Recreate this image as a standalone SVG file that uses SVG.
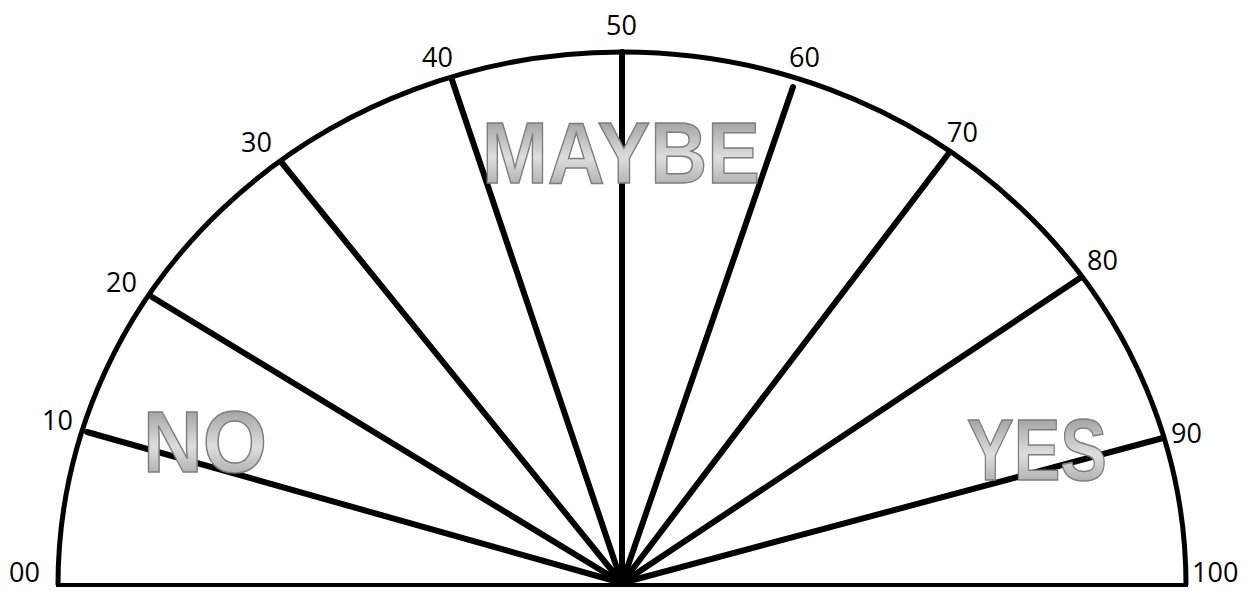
<svg xmlns="http://www.w3.org/2000/svg" width="1259" height="591" viewBox="0 0 1259 591">
<defs>
<linearGradient id="metal" x1="0" y1="0" x2="0" y2="1">
<stop offset="0" stop-color="#858585"/>
<stop offset="0.55" stop-color="#dedede"/>
<stop offset="1" stop-color="#959595"/>
</linearGradient>
<style>
.lbl{font-family:"Open Sans","Liberation Sans",sans-serif;font-size:27px;fill:#000}
.big{font-family:"Liberation Sans",Arial,sans-serif;font-weight:bold;font-size:88px;fill:url(#metal);stroke:#7d7d7d;stroke-width:1.5}
.spoke{stroke:#000;stroke-width:6;stroke-linecap:round}
.rim{fill:none;stroke:#000;stroke-width:5}
</style>
</defs>
<rect width="1259" height="591" fill="#fff"/>
<g id="connectors">
<line class="spoke" x1="622" y1="583" x2="87" y2="432"/>
<line class="spoke" x1="622" y1="583" x2="152" y2="297"/>
<line class="spoke" x1="622" y1="583" x2="282" y2="163"/>
<line class="spoke" x1="622" y1="583" x2="452" y2="80"/>
<line class="spoke" x1="622" y1="583" x2="622" y2="52"/>
<line class="spoke" x1="622" y1="583" x2="793" y2="87"/>
<line class="spoke" x1="622" y1="583" x2="949" y2="153"/>
<line class="spoke" x1="622" y1="583" x2="1080" y2="278"/>
<line class="spoke" x1="622" y1="583" x2="1163" y2="438"/>
</g>
<g id="protractor">
<path class="rim" d="M 58 585 A 564 533 0 0 1 1186 585"/>
<line x1="56" y1="585" x2="1188" y2="585" stroke="#000" stroke-width="4"/>
</g>
<g id="words">
<text class="big" x="143" y="472" textLength="124" lengthAdjust="spacingAndGlyphs">NO</text>
<text class="big" x="482" y="183" textLength="278" lengthAdjust="spacingAndGlyphs">MAYBE</text>
<text class="big" x="967" y="480" textLength="140" lengthAdjust="spacingAndGlyphs">YES</text>
</g>
<g id="labels">
<text class="lbl" x="9" y="582">00</text>
<text class="lbl" x="42" y="430">10</text>
<text class="lbl" x="106" y="292">20</text>
<text class="lbl" x="241" y="152">30</text>
<text class="lbl" x="422" y="67">40</text>
<text class="lbl" x="606" y="35">50</text>
<text class="lbl" x="789" y="67">60</text>
<text class="lbl" x="947" y="142">70</text>
<text class="lbl" x="1087" y="270">80</text>
<text class="lbl" x="1171" y="443">90</text>
<text class="lbl" x="1192" y="582">100</text>
</g>
</svg>
